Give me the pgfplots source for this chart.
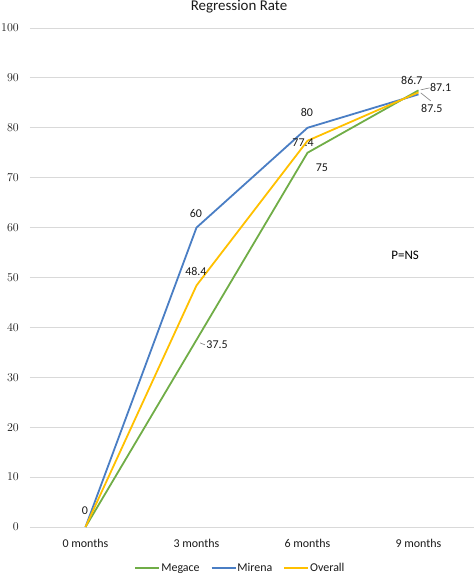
\documentclass[border=0pt]{standalone}
\usepackage{pgfplots}
\pgfplotsset{compat=1.18}
\usepackage{fontspec}
\setmainfont{Carlito}
\definecolor{megace}{HTML}{70AD47}
\definecolor{mirena}{HTML}{4A7EC4}
\definecolor{overall}{HTML}{FFC000}
\definecolor{gridgray}{HTML}{D9D9D9}
\definecolor{txt}{HTML}{1A1A1A}
\begin{document}
\begin{tikzpicture}[x=1bp,y=1bp]
\useasboundingbox (-30,-47) rectangle (444,527);
\begin{axis}[
  at={(0,0)}, anchor=south west,
  scale only axis, width=444bp, height=499bp,
  xmin=-0.5, xmax=3.5, ymin=0, ymax=100,
  ytick={0,10,...,100},
  xtick={0,1,2,3},
  xticklabels={0 months,3 months,6 months,9 months},
  axis line style={draw=none},
  major tick length=0pt,
  ymajorgrids, grid style={draw=gridgray, line width=0.9bp},
  tick label style={font=\fontsize{12}{14}\selectfont, text=txt},
  yticklabel style={inner sep=0pt, xshift=-11bp},
  xticklabel style={inner sep=0pt, yshift=-12bp},
  clip=false,
  legend columns=3,
  legend style={draw=none, fill=none, at={(rel axis cs:0.473,0)}, yshift=-41bp, anchor=center,
    font=\fontsize{12}{14}\selectfont, text=txt, inner sep=0pt,
    /tikz/every even column/.append style={column sep=10bp},
    nodes={inner sep=1pt}},
  legend image code/.code={\draw[#1, line width=1.8bp] (0bp,0bp) -- (24bp,0bp);},
  every axis plot/.append style={line width=1.8bp},
]
\addplot[megace] coordinates {(0,0) (1,37.5) (2,75) (3,87.5)};
\addlegendentry{Megace}
\addplot[mirena] coordinates {(0,0) (1,60) (2,80) (3,86.7)};
\addlegendentry{Mirena}
\addplot[overall] coordinates {(0,0) (1,48.4) (2,77.4) (3,87.1)};
\addlegendentry{Overall}

\begin{scope}[font=\fontsize{12}{14}\selectfont, text=txt]
\node at (axis cs:-0.005,3.2) {0};
\node at (axis cs:0.995,62.9) {60};
\node at (axis cs:1.995,83.0) {80};
\node at (axis cs:2.94,89.4) {86.7};
\node at (axis cs:0.995,51.3) {48.4};
\node at (axis cs:1.96,77.0) {77.4};
\node at (axis cs:3.20,88.0) {87.1};
\node at (axis cs:1.185,36.5) {37.5};
\node at (axis cs:2.13,72.1) {75};
\node at (axis cs:3.12,83.8) {87.5};
\end{scope}
\draw[gray, line width=0.6bp] (axis cs:1.032,36.9) -- (axis cs:1.077,36.5);
\draw[gray, line width=0.6bp] (axis cs:3.02,87.6) -- (axis cs:3.10,88.0);
\draw[gray, line width=0.6bp] (axis cs:3.02,87.0) -- (axis cs:3.11,85.4);
\node[font=\fontsize{13}{15}\selectfont, text=black] at (axis cs:2.88,54.5) {P=NS};
\end{axis}
\node[font=\fontsize{15}{18}\selectfont, text=txt] at (209,520) {Regression Rate};
\end{tikzpicture}
\end{document}
